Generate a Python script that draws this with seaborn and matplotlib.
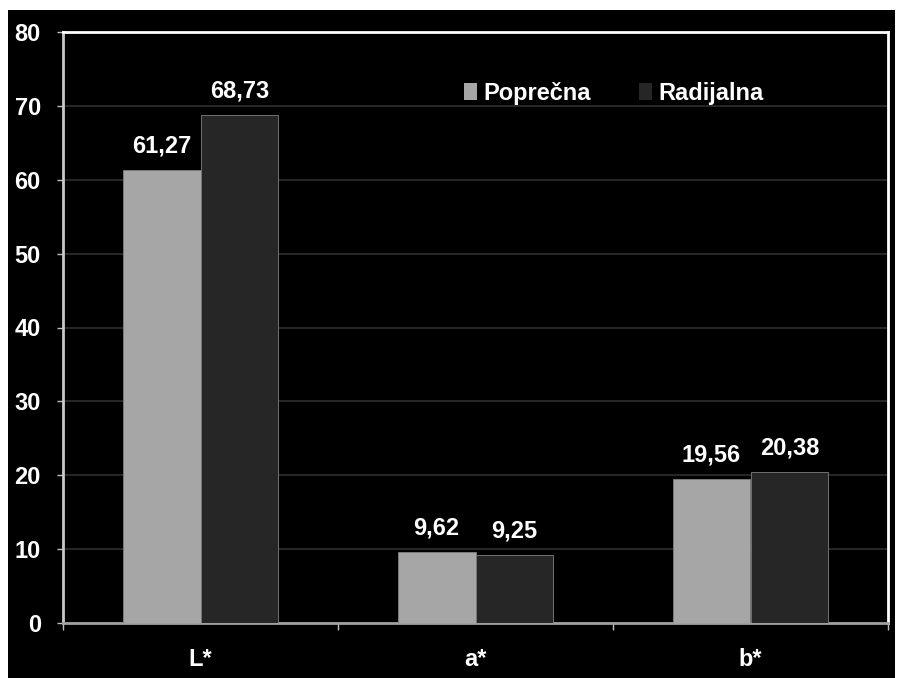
import matplotlib
matplotlib.use("Agg")
import matplotlib.pyplot as plt
import matplotlib.patches as mpatches
import seaborn as sns
import pandas as pd

categories = ["L*", "a*", "b*"]
series = ["Poprečna", "Radijalna"]
poprecna = [61.27, 9.62, 19.56]
radijalna = [68.73, 9.25, 20.38]
y_ticks = [0, 10, 20, 30, 40, 50, 60, 70, 80]

colors = ["#a6a6a6", "#262626"]

df = pd.DataFrame({
    "kat": categories * 2,
    "serija": [series[0]] * 3 + [series[1]] * 3,
    "vrijednost": poprecna + radijalna,
})

sns.set_theme(style="white")
plt.rcParams["font.family"] = ["Liberation Sans", "DejaVu Sans"]
plt.rcParams["font.weight"] = "bold"

fig = plt.figure(figsize=(8.99, 6.78), dpi=100, facecolor="white")
# black panel behind the chart
fig.patches.append(mpatches.Rectangle((8 / 899, 0), 887 / 899, 668 / 678,
                                      transform=fig.transFigure,
                                      facecolor="black", edgecolor="none", zorder=-10))
ax = fig.add_axes([63 / 899, 1 - 623 / 678, 825 / 899, 591 / 678])
ax.set_facecolor("black")

sns.barplot(data=df, x="kat", y="vrijednost", hue="serija", order=categories,
            hue_order=series, palette=colors, width=0.567, gap=0,
            edgecolor="#808080", linewidth=0.6, ax=ax, legend=False, zorder=3)

for cont in ax.containers:
    ax.bar_label(cont, labels=[f"{v:.2f}".replace(".", ",") for v in cont.datavalues],
                 padding=9, color="white", fontsize=17, fontweight="bold")

ax.set_ylim(0, 80)
ax.set_xlim(-0.5, 2.5)
ax.set_yticks(y_ticks)
ax.yaxis.grid(True, color="#2e2e2e", linewidth=1.2, zorder=0)
ax.set_axisbelow(True)
ax.set_xlabel("")
ax.set_ylabel("")

ax.tick_params(axis="y", colors="#bfbfbf", length=4, width=1, direction="out",
               labelcolor="white", labelsize=17, pad=12, left=True)
ax.tick_params(axis="x", which="major", length=0, labelcolor="white",
               labelsize=17, pad=18)
ax.set_xticks([-0.5, 0.5, 1.5, 2.5], minor=True)
ax.tick_params(axis="x", which="minor", length=5, width=1, color="#bfbfbf",
               direction="out", bottom=True)
for lab in ax.get_xticklabels() + ax.get_yticklabels():
    lab.set_fontweight("bold")

ax.spines["top"].set_color("white")
ax.spines["right"].set_color("white")
ax.spines["left"].set_color("#c8c8c8")
ax.spines["bottom"].set_color("#a0a0a0")
for s in ax.spines.values():
    s.set_linewidth(2)
    s.set_visible(True)

handles = [mpatches.Patch(facecolor=c, edgecolor="none", label=s)
           for c, s in zip(colors, series)]
leg = ax.legend(handles=handles, ncol=2, frameon=False, loc="upper left",
                bbox_to_anchor=(0.46, 0.952), handlelength=0.55, handleheight=0.7,
                handletextpad=0.3, columnspacing=2.0, fontsize=17)
for t in leg.get_texts():
    t.set_color("white")
    t.set_fontweight("bold")

fig.savefig("out.png", dpi=100, facecolor="white")
